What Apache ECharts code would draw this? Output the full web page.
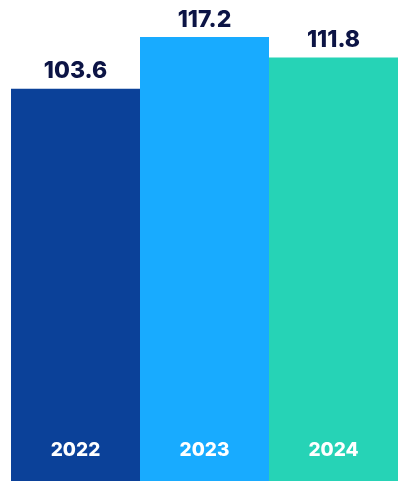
<!DOCTYPE html>
<html><head><meta charset="utf-8">
<script src="https://cdn.jsdelivr.net/npm/echarts@6/dist/echarts.min.js"></script>
<style>html,body{margin:0;padding:0;background:#fff}#c{width:399px;height:481px}</style>
</head><body><div id="c"></div>
<script>
const categories = ['2022', '2023', '2024'];
const values = [103.6, 117.2, 111.8];
const colors = ['#0b4199', '#18abff', '#26d3b6'];

const chart = echarts.init(document.getElementById('c'), null, {renderer: 'canvas'});
chart.setOption({
  animation: false,
  grid: {left: 11, right: 1, top: 0, bottom: 0},
  xAxis: {
    type: 'category', data: categories, z: 10,
    axisLine: {show: false}, axisTick: {show: false},
    axisLabel: {inside: true, margin: 21, color: '#ffffff', fontFamily: 'Inter', fontWeight: 800, fontSize: 19}
  },
  yAxis: {type: 'value', min: 0, max: 127, show: false, splitLine: {show: false}},
  series: [{
    type: 'bar', barCategoryGap: 0,
    data: values.map((v, i) => ({value: v, itemStyle: {color: colors[i]}})),
    label: {show: true, position: 'top', distance: 6, color: '#0c1445', fontFamily: 'Inter', fontWeight: 800, fontSize: 23,
      formatter: p => p.value.toFixed(1)}
  }]
});
</script></body></html>
